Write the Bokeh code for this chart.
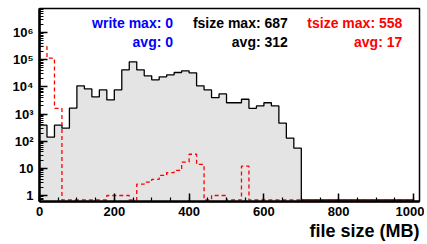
import numpy as np
from bokeh.plotting import figure
from bokeh.models import FixedTicker, Title
from bokeh.core.properties import value
from bokeh.embed import file_html
from bokeh.resources import INLINE

# ---- data (20 MB bins from 0 to 1000 MB) ----
bin_width = 20
n_bins = 50
fsize_counts = [390, 140, 390, 300, 1660, 10900, 8400, 4250, 7740, 3300,
                7700, 42600, 84000, 42600, 25600, 18200, 23500, 27800, 33900, 39000,
                33000, 10900, 7700, 4000, 5500, 2600, 2600, 3500, 1620, 1990,
                2600, 1990, 460, 130, 55, 0, 0, 0, 0, 0,
                0, 0, 0, 0, 0, 0, 0, 0, 0, 0]
tsize_counts = [310000, 115000, 1620, 0, 0, 0, 0, 0, 0, 1,
                1, 1, 0, 2.6, 3.1, 3.9, 5.5, 7, 8.4, 17,
                33, 14, 0, 1, 1, 0, 0, 12, 0, 0,
                0, 0, 0, 0, 0, 0, 0, 0, 0, 0,
                0, 0, 0, 0, 0, 0, 0, 0, 0, 0]
x_ticks = [0, 200, 400, 600, 800, 1000]
y_ticks = [1, 10, 100, 1000, 10000, 100000, 1000000]
y_tick_labels = ["1", "10", "10²", "10³", "10⁴", "10⁵", "10⁶"]
stats_write = ["write max: 0", "avg: 0"]
stats_fsize = ["fsize max: 687", "avg: 312"]
stats_tsize = ["tsize max: 558", "avg: 17"]
x_title = "file size (MB)"

XMIN, XMAX = 0, 1016
YMIN, YMAX = 0.6, 7.7e6
ZERO_DRAW = 0.68  # where empty bins are drawn (just above the bottom axis line)
FONT = "Liberation Sans"

edges = np.arange(n_bins + 1) * bin_width
fs = np.array(fsize_counts, dtype=float)
ts = np.array(tsize_counts, dtype=float)
fs_draw = np.where(fs > 0, fs, ZERO_DRAW)
ts_draw = np.where(ts > 0, ts, ZERO_DRAW)
fs_step = np.append(fs_draw, fs_draw[-1])
ts_step = np.append(ts_draw, ts_draw[-1])

p = figure(width=424, height=242, x_range=(XMIN, XMAX), y_range=(YMIN, YMAX),
           y_axis_type="log", output_backend="svg", toolbar_location=None,
           min_border_left=39, min_border_right=5, min_border_top=8, min_border_bottom=41)
p.background_fill_color = "white"
p.border_fill_color = "white"
p.outline_line_color = "black"
p.outline_line_width = 1.5
p.grid.visible = False

# filled histogram
p.varea_step(x=edges, y1=np.full(len(edges), YMIN), y2=fs_step, step_mode="after",
             fill_color="#e4e4e4")
p.step(x=edges, y=fs_step, mode="after", line_color="black", line_width=1.3)
p.step(x=edges, y=ts_step, mode="after", line_color="#ff0000", line_width=1.3,
       line_dash="4 3")

# axes
xa = p.xaxis[0]
xa.ticker = FixedTicker(ticks=x_ticks, minor_ticks=list(range(0, 1001, 50)))
ya = p.yaxis[0]
minor_y = [m * 10 ** e for e in range(-1, 7) for m in range(2, 10)]
ya.ticker = FixedTicker(ticks=y_ticks, minor_ticks=minor_y)
ya.major_label_overrides = {t: l for t, l in zip(y_ticks, y_tick_labels)}
for ax in (xa, ya):
    ax.axis_line_width = 2.5
    ax.axis_line_color = "black"
    ax.major_tick_in = 8
    ax.major_tick_out = 0
    ax.minor_tick_in = 4
    ax.minor_tick_out = 0
    ax.major_tick_line_width = 1.5
    ax.minor_tick_line_width = 1.2
    ax.major_label_text_font = FONT
    ax.major_label_text_font_style = "bold"
    ax.major_label_text_font_size = "13px"
    ax.major_label_text_color = "black"
xa.major_label_standoff = 5
ya.major_label_standoff = 6

p.add_layout(Title(text=x_title, align="right", text_font=FONT, text_font_style="bold",
                   text_font_size="18px", text_color="black", standoff=0, offset=0),
             "below")

# statistics text
def stat(x, y, txt, color):
    p.text(x=[x], y=[y], text=[txt], text_align="right", text_baseline="middle",
           text_font=value(FONT), text_font_style="bold", text_font_size="14px",
           text_color=color)

stat(357, 2.3e6, stats_write[0], "#0000ff")
stat(357, 4.6e5, stats_write[1], "#0000ff")
stat(664, 2.3e6, stats_fsize[0], "black")
stat(664, 4.6e5, stats_fsize[1], "black")
stat(970, 2.3e6, stats_tsize[0], "#ff0000")
stat(970, 4.6e5, stats_tsize[1], "#ff0000")

open("out.html", "w").write(file_html(p, INLINE))
